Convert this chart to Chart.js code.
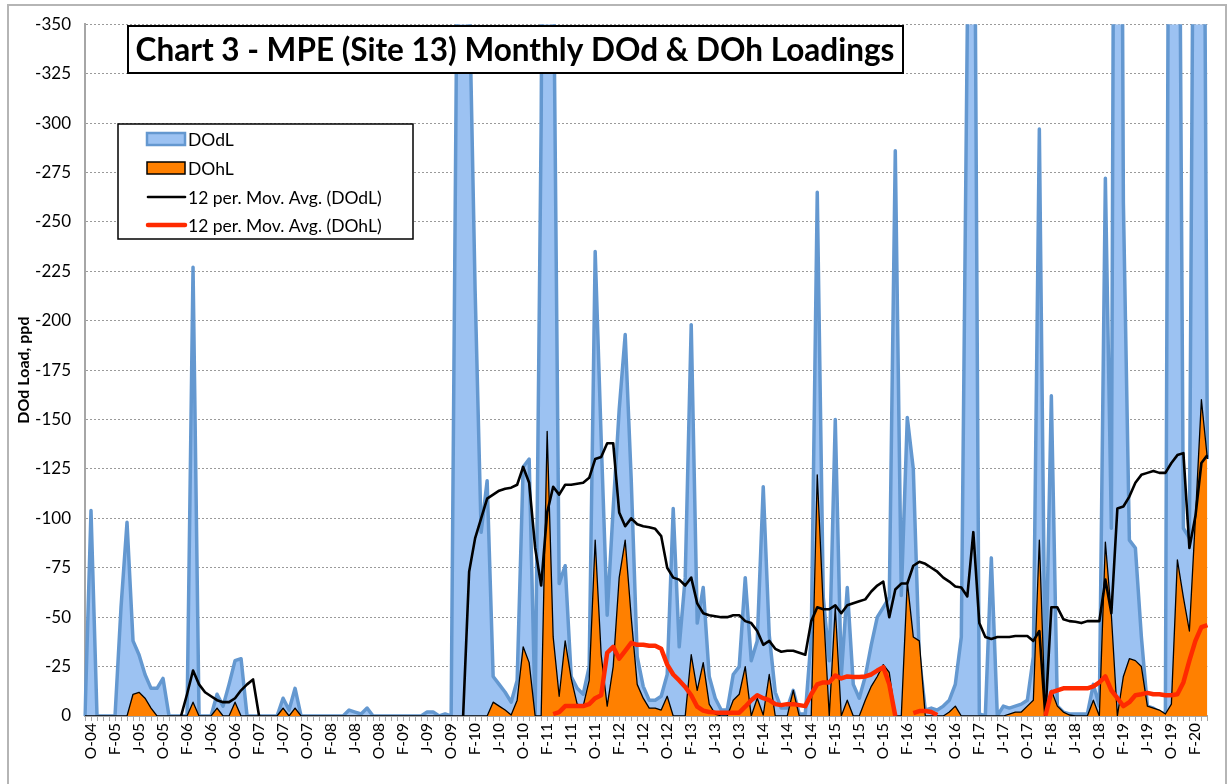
<!DOCTYPE html>
<html>
<head>
<meta charset="utf-8">
<script src="https://cdn.jsdelivr.net/npm/chart.js@4.4.1/dist/chart.umd.min.js"></script>
<style>
  html, body { margin: 0; padding: 0; background: #fff; }
</style>
</head>
<body>
<canvas id="chart" width="1228" height="784"></canvas>
<script>
// monthly categories, Sep 2004 .. Apr 2020 (188 months)
const monthLetters = ["J", "F", "M", "A", "M", "J", "J", "A", "S", "O", "N", "D"];
const months = [];
for (let y = 2004, m = 8; months.length < 188; m++) {
    if (m === 12) { m = 0; y++; }
    months.push(monthLetters[m] + "-" + String(y).slice(2));
}

// DOd load, ppd (rows of 12 months starting Sep)
const dodl = [
    0, -104, 0, 0, 0, 0, -55, -98, -38, -31, -21, -14,
    -14, -19, 0, 0, 0, 0, -227, 0, 0, 0, -11, -5,
    -16, -28, -29, 0, 0, 0, 0, 0, 0, -9, -3, -14,
    0, 0, 0, 0, 0, 0, 0, 0, -3, -2, -1, -4,
    0, 0, 0, 0, 0, 0, 0, 0, 0, -2, -2, 0,
    -1, 0, -380, -900, -370, -215, -93, -119, -20, -16, -12, -7,
    -18, -126, -130, 0, -300, -900, -400, -67, -76, -20, -14, -11,
    -25, -235, -140, -51, -105, -155, -193, -120, -30, -15, -8, -8,
    -10, -21, -105, -35, -70, -198, -47, -65, -20, -9, -3, -3,
    -21, -25, -70, -28, -38, -116, -41, -12, -4, -4, -13, -1,
    -1, -40, -265, -60, -28, -150, -20, -65, -16, -9, -20, -36,
    -50, -55, -60, -286, -61, -151, -125, -30, -3, -4, -3, -5,
    -8, -16, -40, -350, -540, -1, 0, -80, 0, -5, -4, -5,
    -6, -8, -30, -297, -10, -162, -5, -2, -1, -1, -1, -1,
    -16, -5, -272, -95, -950, -260, -89, -85, -40, -5, -4, -2,
    -1, -800, -600, -95, -90, -600, -700, -130
];

// DOh load, ppd
const dohl = [
    0, 0, 0, 0, 0, 0, 0, 0, -11, -12, -9, -4,
    0, 0, 0, 0, 0, 0, -7, 0, 0, 0, -4, 0,
    0, -7, 0, 0, 0, 0, 0, 0, 0, -4, 0, -4,
    0, 0, 0, 0, 0, 0, 0, 0, 0, 0, 0, 0,
    0, 0, 0, 0, 0, 0, 0, 0, 0, 0, 0, 0,
    0, 0, 0, 0, 0, 0, 0, 0, -7, -5, -3, -0.5,
    -8, -35, -27, 0, 0, -144, -40, -10, -38, -19, -6, -5,
    -18, -89, -31, -5, -25, -70, -89, -50, -16, -9, -4, -4,
    -3, -10, 0, 0, 0, -31, -13, -27, -6, -1, 0, 0,
    -8, -11, -25, 0, -9, -0.5, -21, 0, 0, 0, -13, 0,
    0, 0, -122, -55, 0, -55, 0, -8, 0, 0, -8, -15,
    -20, -26, -22, 0, 0, -68, -40, -38, 0, 0, 0, 0,
    -2, -5, 0, 0, 0, 0, 0, 0, 0, 0, -1, -2,
    -2, -5, -8, -89, 0, -13, -5, -2, -0.5, 0, 0, 0,
    -8, 0, -88, -51, 0, -20, -29, -28, -25, -5, -4, -3,
    -1, -6, -79, -60, -43, -100, -160, -130
];

// 12 per. moving average of DOdL, as drawn
const maDodl = [
    null, null, null, null, null, null, null, null, null, null, null, null,
    null, null, null, null, 0, -11, -23, -16, -12, -10, -8, -7,
    -7, -9, -13, -16, -18.5, 0, null, null, null, null, null, null,
    null, null, null, null, null, null, null, null, null, null, null, null,
    null, null, null, null, null, null, null, null, null, null, null, null,
    null, null, null, 0, -73, -90, -100, -110, -112, -114, -115, -115.5,
    -117, -126, -118, -85, -66, -103, -116, -112, -117, -117, -117.5, -118,
    -120.5, -130, -131, -138, -138, -103, -96, -100, -97, -96, -95.5, -94.7,
    -91, -75, -70, -69, -66, -70, -57, -52, -51, -50.5, -50, -50,
    -51, -51, -48, -47, -43, -36, -38, -34, -32.5, -33, -33, -32,
    -31, -48, -55, -54, -54, -56, -52, -56, -57, -58, -59, -63,
    -66, -68, -50, -64, -67, -67, -76, -78, -77, -75, -73, -70,
    -68, -65.5, -65, -60.5, -93, -47, -40, -39, -40, -40, -40, -40.5,
    -40.5, -40.5, -38, -43, 0, -55, -55, -49, -48, -47.7, -47, -48,
    -48, -48, -69, -52, -105, -106, -111, -118, -122, -123, -124, -123,
    -123, -128, -132, -133, -85, -101, -128, -132
];

// 12 per. moving average of DOhL, as drawn
const maDohl = [
    null, null, null, null, null, null, null, null, null, null, null, null,
    null, null, null, null, null, null, null, null, null, null, null, null,
    null, null, null, null, null, null, null, null, null, null, null, null,
    null, null, null, null, null, null, null, null, null, null, null, null,
    null, null, null, null, null, null, null, null, null, null, null, null,
    null, null, null, null, null, null, null, null, null, null, null, null,
    null, null, null, null, null, null, -1, -2, -5, -5, -5, -5,
    -6, -9, -10.5, -32, -35, -29, -33, -37, -36, -36, -35.5, -35.5,
    -34, -26, -21, -18, -14.7, -10.5, -4.7, -2.7, -2, -1.8, -1.7, -1.7,
    -1.7, -1.7, -4.7, -8, -10.5, -9, -8, -6, -5.5, -6, -6, -5.5,
    -5, -11, -16, -17, -17, -20.5, -19, -20, -19.7, -19.7, -20, -21,
    -23, -24.7, -16, 0, null, null, -1.5, -2.5, -2.5, -2, -0.5, null,
    null, null, null, null, null, null, null, null, null, null, null, null,
    null, null, null, null, 0, -12, -13, -14, -14, -14, -14, -14,
    -15, -17, -20, -13, -9, -5, -7, -10.5, -11, -11.7, -11, -11,
    -10.5, -10.5, -11, -17, -28, -38, -45, -46
];

const chartTitle = "Chart 3 - MPE (Site 13) Monthly DOd & DOh Loadings";
const font = "Lato";

// frame, title box and legend box drawn over the plot
const decorations = {
    id: "decorations",
    beforeDraw(chart) {
        const c = chart.ctx;
        c.save();
        c.fillStyle = "#fff";
        c.fillRect(0, 0, chart.width, chart.height);
        c.strokeStyle = "#b5b5b5";
        c.lineWidth = 2;
        c.strokeRect(8, 5, chart.width - 10, chart.height);
        c.restore();
    },
    afterDraw(chart) {
        const c = chart.ctx;
        c.save();

        // title
        c.font = "bold 29px " + font;
        let w = c.measureText(chartTitle).width;
        let size = 29 * 758 / w;
        c.font = "bold " + size.toFixed(1) + "px " + font;
        c.fillStyle = "#fff";
        c.fillRect(128, 26, 775, 47);
        c.strokeStyle = "#000";
        c.lineWidth = 2;
        c.strokeRect(128, 26, 775, 47);
        c.fillStyle = "#000";
        c.textBaseline = "middle";
        c.textAlign = "center";
        c.fillText(chartTitle, 515, 51);

        // legend
        c.fillStyle = "#fff";
        c.fillRect(118, 124, 295, 115);
        c.lineWidth = 1.5;
        c.strokeRect(118, 124, 295, 115);
        const rows = [139, 168, 197, 225];
        c.font = "17.5px " + font;
        c.textAlign = "left";
        chart.data.datasets.forEach((ds, i) => {
            const y = rows[i];
            if (ds.fill) {
                c.fillStyle = ds.backgroundColor;
                c.fillRect(147, y - 6, 38, 12);
                c.strokeStyle = ds.borderColor;
                c.lineWidth = i === 0 ? 2.5 : 1.5;
                c.strokeRect(147, y - 6, 38, 12);
            } else {
                c.strokeStyle = ds.borderColor;
                c.lineWidth = ds.borderWidth;
                c.lineCap = "round";
                c.beginPath();
                c.moveTo(148, y);
                c.lineTo(185, y);
                c.stroke();
            }
            c.fillStyle = "#000";
            c.fillText(ds.label, 188, y + 1);
        });
        c.restore();
    }
};

new Chart(document.getElementById("chart"), {
    type: "line",
    data: {
        labels: months,
        datasets: [
            {
                label: "DOdL",
                data: dodl,
                borderColor: "#6498d0",
                backgroundColor: "#9cc2f2",
                borderWidth: 3.5,
                fill: "origin",
                order: 3
            },
            {
                label: "DOhL",
                data: dohl,
                borderColor: "#000",
                backgroundColor: "#ff8000",
                borderWidth: 1.3,
                fill: "origin",
                order: 2
            },
            {
                label: "12 per. Mov. Avg. (DOdL)",
                data: maDodl,
                borderColor: "#000",
                borderWidth: 2.6,
                fill: false,
                order: 1
            },
            {
                label: "12 per. Mov. Avg. (DOhL)",
                data: maDohl,
                borderColor: "#ff2a00",
                borderWidth: 4.5,
                fill: false,
                order: 0
            }
        ]
    },
    options: {
        responsive: false,
        animation: false,
        layout: { padding: { left: 0, top: 18, right: 13, bottom: 0 } },
        elements: {
            point: { radius: 0 },
            line: { tension: 0, borderJoinStyle: "round" }
        },
        plugins: {
            legend: { display: false },
            tooltip: { enabled: false }
        },
        scales: {
            x: {
                ticks: {
                    autoSkip: false,
                    maxRotation: 90,
                    minRotation: 90,
                    padding: 2,
                    color: "#000",
                    font: { family: font, size: 15.5 },
                    callback(v, i) { return i % 4 === 1 ? this.getLabelForValue(v) : ""; }
                },
                grid: { drawOnChartArea: false, tickLength: 5, color: "#a6a6a6" },
                border: { color: "#a6a6a6", width: 2 },
                afterFit(s) { s.height = 68; }
            },
            y: {
                min: -350,
                max: 0,
                reverse: true,
                ticks: {
                    stepSize: 25,
                    padding: 14,
                    color: "#000",
                    font: { family: font, size: 17 }
                },
                grid: { color: "#9a9a9a", drawTicks: false },
                border: { color: "#a6a6a6", width: 2, dash: [2, 2] },
                title: {
                    display: true,
                    text: "DOd Load, ppd",
                    color: "#000",
                    font: { family: font, size: 16, weight: "bold" },
                    padding: { top: 14, bottom: 0 }
                },
                afterFit(s) { s.width = 85; }
            }
        }
    },
    plugins: [decorations]
});
</script>
</body>
</html>
